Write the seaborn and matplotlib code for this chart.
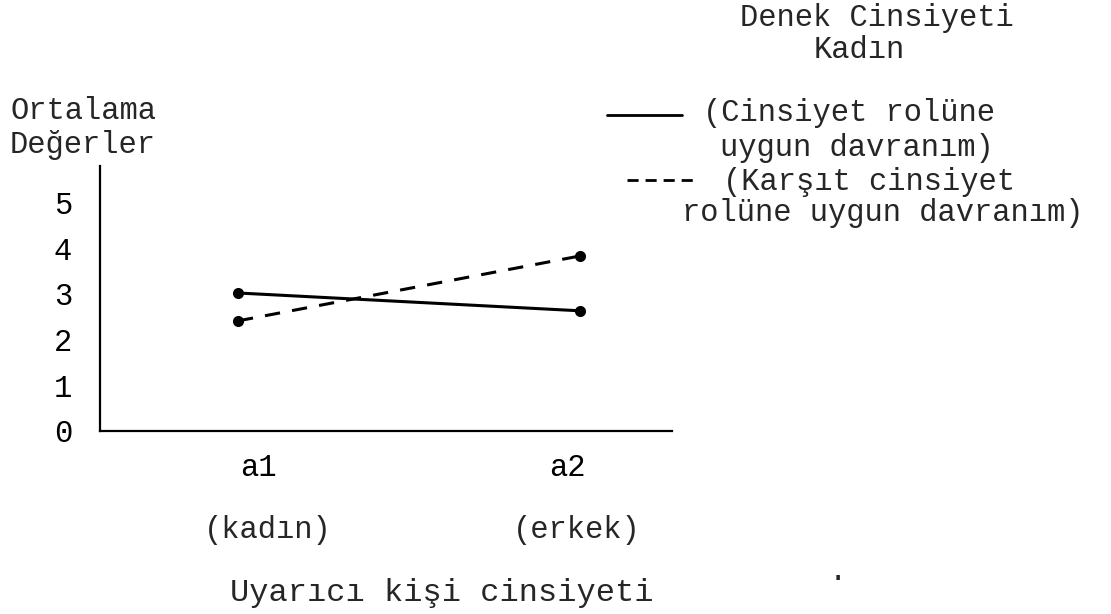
import pandas as pd
import seaborn as sns
import matplotlib.pyplot as plt
from matplotlib.lines import Line2D
from matplotlib.transforms import ScaledTranslation

# ------------------------------------------
# DATA
# ------------------------------------------
categories = ["a1", "a2"]
category_names = ["(kadın)", "(erkek)"]
uygun = [3.02, 2.63]      # Cinsiyet rolüne uygun davranım
karsit = [2.41, 3.83]     # Karşıt cinsiyet rolüne uygun davranım
y_ticks = [0, 1, 2, 3, 4, 5]
series_names = ["uygun", "karsit"]

df = pd.DataFrame({
    "pos": list(range(len(categories))) * 2,
    "deger": uygun + karsit,
    "kosul": [series_names[0]] * len(categories) + [series_names[1]] * len(categories),
})

# ------------------------------------------
# STYLE
# ------------------------------------------
sns.set_style("white")
plt.rcParams['font.family'] = ['Liberation Mono', 'DejaVu Sans Mono']
plt.rcParams['font.size'] = 22

W, H = 1111, 614

def fx(x):
    return x / W

def fy(y):
    return 1 - y / H

fig = plt.figure(figsize=(W / 100, H / 100), dpi=100)
ax = fig.add_axes([fx(100), fy(431), (672 - 100) / W, (431 - 166) / H])

sns.lineplot(
    data=df, x="pos", y="deger",
    hue="kosul", style="kosul",
    palette=["black", "black"],
    dashes=["", (5, 4)],
    markers=["o", "o"],
    markersize=8, markeredgewidth=0,
    linewidth=2.2, legend=False, ax=ax
)

ax.set_xlim(-(238 - 100) / 342, 1 + (672 - 580) / 342)
ax.set_ylim(0, 265 / 45.7)

for side in ["top", "right"]:
    ax.spines[side].set_visible(False)
for side in ["left", "bottom"]:
    ax.spines[side].set_color("black")
    ax.spines[side].set_linewidth(1.6)

ax.set_yticks(y_ticks)
ax.set_yticklabels([str(t) for t in y_ticks])
ax.tick_params(axis="y", direction="inout", length=6, width=1.3, pad=17,
               colors="black", labelsize=22)

ax.set_xticks(range(len(categories)))
ax.set_xticklabels(categories)
ax.tick_params(axis="x", direction="in", length=6, width=1.3, pad=16,
               colors="black", labelsize=22)
# typewritten labels sit slightly off their ticks
shifts = [0.20, -0.13]
for lab, dx in zip(ax.get_xticklabels(), shifts):
    lab.set_transform(lab.get_transform() + ScaledTranslation(dx, 0, fig.dpi_scale_trans))

ax.set_xlabel("")
ax.set_ylabel("")

# ------------------------------------------
# TEXT
# ------------------------------------------
fig.text(fx(10), fy(111), "Ortalama", ha="left", va="center", fontsize=22)
fig.text(fx(10), fy(145), "Değerler", ha="left", va="center", fontsize=22)

for cx, name in zip([268, 577], category_names):
    fig.text(fx(cx), fy(530), name, ha="center", va="center", fontsize=22)

fig.text(fx(230), fy(593), "Uyarıcı kişi cinsiyeti", ha="left", va="center", fontsize=23)

fig.text(fx(877), fy(18), "Denek Cinsiyeti", ha="center", va="center", fontsize=22)
fig.text(fx(859), fy(50), "Kadın", ha="center", va="center", fontsize=22)

# legend
fig.add_artist(Line2D([fx(607), fx(682)], [fy(115), fy(115)], color="black", lw=2))
fig.text(fx(703), fy(113), "(Cinsiyet rolüne", ha="left", va="center", fontsize=22)
fig.text(fx(720), fy(148), "uygun davranım)", ha="left", va="center", fontsize=22)
fig.add_artist(Line2D([fx(627), fx(698)], [fy(180), fy(180)], color="black", lw=2,
                      dashes=(4, 2.5)))
fig.text(fx(723), fy(182), "(Karşıt cinsiyet", ha="left", va="center", fontsize=22)
fig.text(fx(682), fy(213), "rolüne uygun davranım)", ha="left", va="center", fontsize=22)

fig.text(fx(838), fy(572), ".", ha="center", va="center", fontsize=22)

fig.savefig("out.png", dpi=100)
